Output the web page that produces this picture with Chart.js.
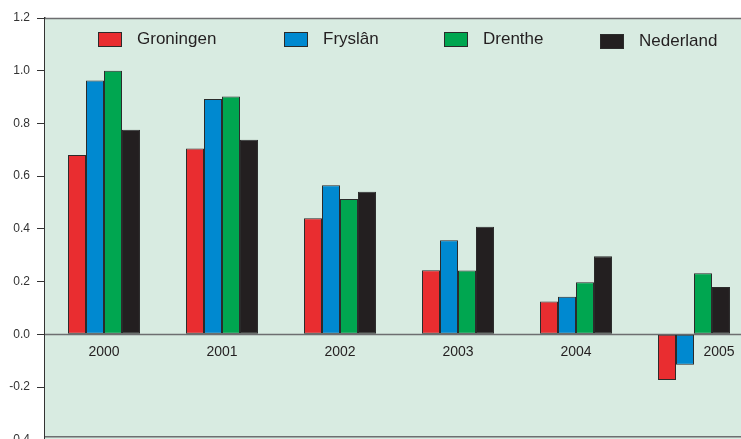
<!DOCTYPE html>
<html>
<head>
<meta charset="utf-8">
<script src="https://cdn.jsdelivr.net/npm/chart.js@4/dist/chart.umd.min.js"></script>
<style>
  html, body { margin: 0; padding: 0; background: #fff; }
  #wrap { width: 741px; height: 439px; overflow: hidden; position: relative; }
  #chart { position: absolute; left: 0; top: 0; }
</style>
</head>
<body>
<div id="wrap"><canvas id="chart" width="753" height="454"></canvas></div>
<script>
// data
const years = ['2000', '2001', '2002', '2003', '2004', '2005'];
const groningen = [0.68, 0.705, 0.44, 0.243, 0.125, -0.173];
const fryslan   = [0.963, 0.893, 0.566, 0.357, 0.143, -0.115];
const drenthe   = [1.0, 0.902, 0.513, 0.242, 0.198, 0.232];
const nederland = [0.776, 0.738, 0.541, 0.408, 0.296, 0.18];
const seriesNames = ['Groningen', 'Fryslân', 'Drenthe', 'Nederland'];
const seriesColors = ['#e92d30', '#0089d0', '#00a650', '#231f20'];

const yMin = -0.4, yMax = 1.2, yStep = 0.2;
const FONT = '"Liberation Sans", Arial, sans-serif';

// plot background, frame lines and zero line
const framePlugin = {
  id: 'frame',
  beforeDatasetsDraw(chart) {
    const { ctx, chartArea: a, scales: { y } } = chart;
    ctx.save();
    ctx.fillStyle = '#d8ebe1';
    ctx.fillRect(a.left, a.top, a.right - a.left, a.bottom - a.top);
    ctx.strokeStyle = '#6d6e70';
    ctx.lineWidth = 1.5;
    const z = Math.round(y.getPixelForValue(0)) + 0.5;
    ctx.beginPath();
    ctx.moveTo(a.left, z); ctx.lineTo(a.right, z);
    ctx.moveTo(a.left, a.top + 0.5); ctx.lineTo(a.right, a.top + 0.5);
    ctx.moveTo(a.left, a.bottom - 3); ctx.lineTo(a.right, a.bottom - 3);
    ctx.stroke();
    ctx.restore();
  }
};

// category labels just under the zero line, legend inside the plot
const labelPlugin = {
  id: 'labels',
  afterDatasetsDraw(chart) {
    const { ctx, scales: { x, y } } = chart;
    ctx.save();
    ctx.font = '14px ' + FONT;
    ctx.fillStyle = '#231f20';
    ctx.textAlign = 'center';
    ctx.textBaseline = 'middle';
    const z = y.getPixelForValue(0);
    years.forEach((yr, i) => {
      const neg = chart.data.datasets.some(d => d.data[i] < 0);
      ctx.fillText(yr, x.getPixelForValue(i) + (neg ? 25 : 0), z + 18);
    });

    const boxX = [98, 284, 444, 600];
    const boxY = [32, 32, 32, 34];
    ctx.font = '17px ' + FONT;
    ctx.textAlign = 'left';
    chart.data.datasets.forEach((ds, i) => {
      ctx.fillStyle = ds.backgroundColor;
      ctx.fillRect(boxX[i], boxY[i], 23, 14);
      ctx.strokeStyle = '#2b2b2b';
      ctx.lineWidth = 1;
      ctx.strokeRect(boxX[i] + 0.5, boxY[i] + 0.5, 23, 14);
      ctx.fillStyle = '#231f20';
      ctx.fillText(ds.label, boxX[i] + 39, boxY[i] + 7);
    });
    ctx.restore();
  }
};

const allSeries = [groningen, fryslan, drenthe, nederland];

new Chart(document.getElementById('chart'), {
  type: 'bar',
  data: {
    labels: years,
    datasets: allSeries.map((vals, i) => ({
      label: seriesNames[i],
      data: vals,
      backgroundColor: seriesColors[i],
      borderColor: '#2b2b2b',
      borderWidth: 1,
      borderSkipped: false,
      barPercentage: 1,
      categoryPercentage: 0.61
    }))
  },
  options: {
    responsive: false,
    animation: false,
    layout: { padding: { left: 0, top: 18, right: 0, bottom: 1 } },
    plugins: { legend: { display: false }, tooltip: { enabled: false } },
    scales: {
      x: { display: false },
      y: {
        min: yMin,
        max: yMax,
        afterFit(scale) { scale.width = 45; },
        ticks: {
          stepSize: yStep,
          color: '#333333',
          font: { family: FONT, size: 12 },
          padding: 7,
          callback: v => v.toFixed(1)
        },
        grid: {
          drawOnChartArea: false,
          drawTicks: true,
          tickLength: 8,
          color: '#333333'
        },
        border: { display: true, color: '#333333', width: 1.5 }
      }
    }
  },
  plugins: [framePlugin, labelPlugin]
});
</script>
</body>
</html>
